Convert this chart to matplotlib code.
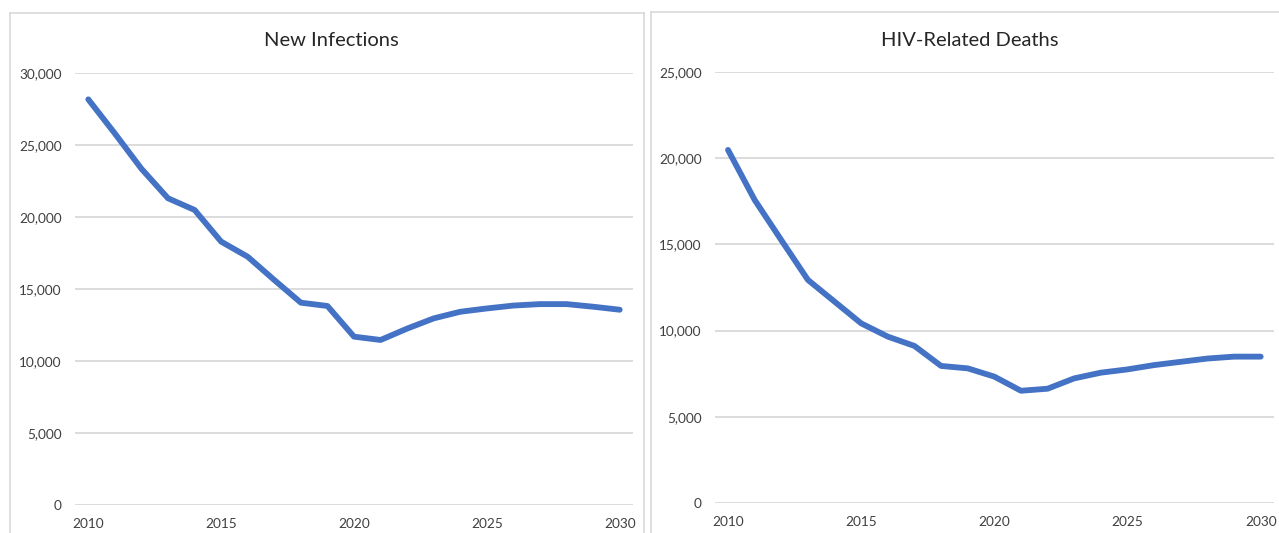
import matplotlib
matplotlib.use('Agg')
import matplotlib.pyplot as plt
from matplotlib.lines import Line2D
from matplotlib.ticker import FuncFormatter, MultipleLocator

years = list(range(2010, 2031))
infections = [28170, 25800, 23350, 21300, 20490, 18290, 17240, 15625, 14050, 13820,
              11690, 11460, 12250, 12960, 13420, 13650, 13850, 13950, 13950, 13770, 13560]
deaths = [20480, 17580, 15250, 12940, 11680, 10420, 9650, 9110, 7950, 7810,
          7330, 6510, 6630, 7230, 7560, 7750, 8000, 8190, 8380, 8490, 8490]

W, H = 1279, 533
plt.rcParams['font.family'] = ['Lato', 'DejaVu Sans']
fig = plt.figure(figsize=(W / 100, H / 100), dpi=100)

blue = '#4472C4'
grid = '#d9d9d9'
tickc = '#404040'

def px(x0, y0, x1, y1):
    # pixel box (top-left origin) -> figure fraction rect
    return [x0 / W, 1 - y1 / H, (x1 - x0) / W, (y1 - y0) / H]

def setup(ax, ymax, step):
    ax.set_xlim(2009.5, 2030.5)
    ax.set_ylim(0, ymax)
    ax.yaxis.set_major_locator(MultipleLocator(step))
    ax.xaxis.set_major_locator(MultipleLocator(5))
    ax.yaxis.set_major_formatter(FuncFormatter(lambda v, p: f'{int(v):,}'))
    ax.grid(axis='y', color=grid, lw=1.3)
    ax.set_axisbelow(True)
    for s in ax.spines.values():
        s.set_visible(False)
    ax.tick_params(length=0, colors=tickc, labelsize=9.8)
    ax.tick_params(axis='y', pad=9.5)
    ax.tick_params(axis='x', pad=9.5)

ax1 = fig.add_axes(px(75, 73, 633, 505))
ax1.plot(years, infections, color=blue, lw=4.2, solid_capstyle='round', solid_joinstyle='round')
setup(ax1, 30000, 5000)

ax2 = fig.add_axes(px(714.7, 72, 1274, 503))
ax2.plot(years, deaths, color=blue, lw=4.2, solid_capstyle='round', solid_joinstyle='round')
setup(ax2, 25000, 5000)

fig.text(331 / W, 1 - 41 / H, 'New Infections', ha='center', va='center', fontsize=14.5, color='#262626')
fig.text(970 / W, 1 - 40 / H, 'HIV-Related Deaths', ha='center', va='center', fontsize=14.5, color='#262626')

# chart borders
bc = '#d9d9d9'
def seg(x0, y0, x1, y1):
    fig.add_artist(Line2D([x0 / W, x1 / W], [1 - y0 / H, 1 - y1 / H], color=bc, lw=1.2))
seg(10, 13, 644, 13)
seg(10, 13, 10, H)
seg(644, 13, 644, H)
seg(651, 12, W, 12)
seg(651, 12, 651, H)

fig.savefig('out.png', dpi=100, facecolor='white')
